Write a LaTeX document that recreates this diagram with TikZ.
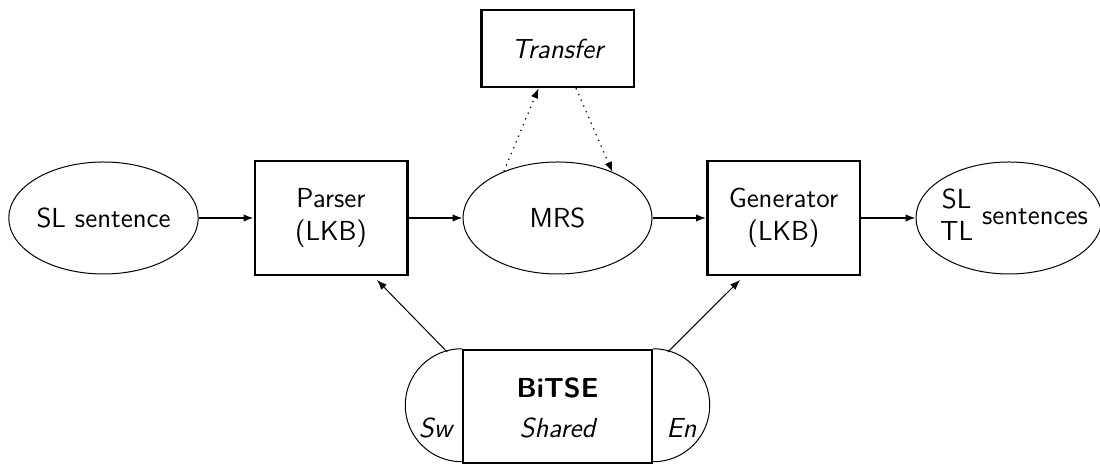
\documentclass[tikz,border=0pt]{standalone}
\usetikzlibrary{shapes.geometric,arrows.meta,calc}
\renewcommand{\familydefault}{\sfdefault}
\begin{document}
\begin{tikzpicture}[x=0.4pt,y=0.4pt,
  every node/.style={font=\fontsize{11}{13}\selectfont},
  ell/.style={ellipse, draw, line width=0.4pt, inner sep=0pt, minimum width=75.6pt, minimum height=44.8pt},
  box/.style={rectangle, draw, line width=1pt, inner sep=0pt, minimum width=61pt, minimum height=45.6pt, align=center},
  arr/.style={-{Latex[length=4pt,width=3pt]}, line width=0.6pt},
  darr/.style={-{Latex[length=4pt,width=3pt]}, line width=0.5pt, dotted},
  barr/.style={-{Latex[length=4pt,width=3pt]}, line width=0.4pt},
  arcline/.style={line width=0.4pt}]
\useasboundingbox (0,0) rectangle (1100,464);
\node[ell] (sl) at (103.5,246) {SL sentence};
\node[box] (parser) at (331,246) {Parser\\(LKB)};
\node[ell] (mrs) at (557.5,246) {MRS};
\node[box, minimum height=30.8pt] (transfer) at (557.5,415.5) {\itshape Transfer};
\node[box] (gen) at (783.5,246) {Generator\\(LKB)};
\node[ell, minimum width=74.4pt] (tl) at (1009,246) {\makebox[0pt]{\hspace{4pt}\begin{tabular}{@{}c@{}}SL\\TL\end{tabular} sentences}};
% BiTSE
\node[box, minimum width=75.6pt, minimum height=45.2pt] (bitse) at (557.5,57.5) {};
\draw[arcline] (bitse.north west) arc[start angle=90, end angle=270, radius=22.6pt];
\draw[arcline] (bitse.north east) arc[start angle=90, end angle=-90, radius=22.6pt];
\node[font=\fontsize{11}{13}\selectfont\bfseries, anchor=base] (bt) at (557.5,66) {BiTSE};
\node[font=\fontsize{11}{13}\selectfont\itshape, anchor=base] (sh) at (557.5,26) {Shared};
\node[font=\fontsize{11}{13}\selectfont\itshape, anchor=base] (sw) at (435.5,26) {Sw};
\node[font=\fontsize{11}{13}\selectfont\itshape, anchor=base] (en) at (681.5,26) {En};
\coordinate (lstart) at ($(bitse.west)+(105:22.6pt)$);
\coordinate (rstart) at ($(bitse.east)+(75:22.6pt)$);
% connectors
\draw[arr] (sl) -- (parser);
\draw[arr] (parser) -- (mrs);
\draw[arr] (mrs) -- (gen);
\draw[arr] (gen) -- (tl);
\draw[darr] (mrs.139) -- ([xshift=-7.6pt]transfer.south);
\draw[darr] ([xshift=7.4pt]transfer.south) -- (mrs.40);
\draw[barr] (lstart) -- ([xshift=18.4pt,yshift=-1.5pt]parser.south);
\draw[barr] (rstart) -- ([xshift=-17.4pt,yshift=-1.5pt]gen.south);
\end{tikzpicture}
\end{document}
